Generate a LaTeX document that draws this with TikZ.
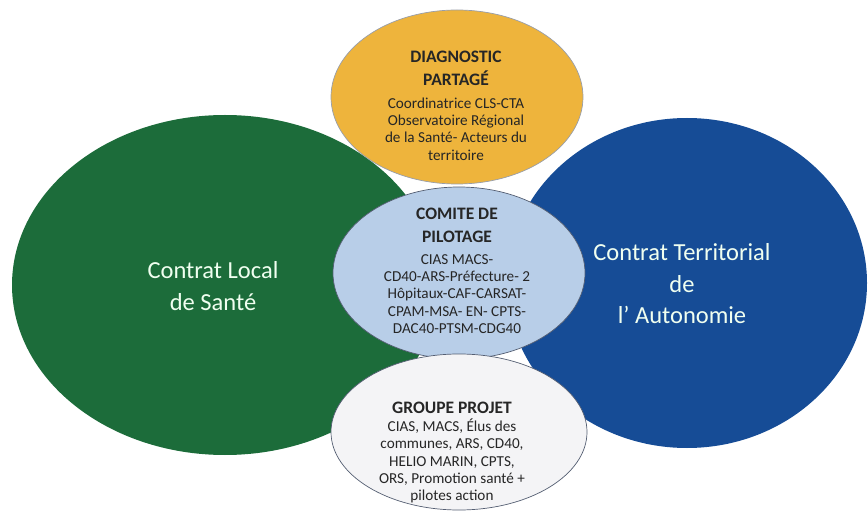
\documentclass[tikz,border=0pt]{standalone}
\usepackage{fontspec}
\setmainfont{Carlito}
\usetikzlibrary{shapes.geometric}

\definecolor{clsgreen}{RGB}{28,108,58}
\definecolor{ctablue}{RGB}{22,76,150}
\definecolor{diagyellow}{RGB}{238,180,60}
\definecolor{copilblue}{RGB}{184,206,232}
\definecolor{projwhite}{RGB}{244,244,246}
\definecolor{rimgray}{RGB}{84,94,114}

\begin{document}
\begin{tikzpicture}[
    x=1pt, y=1pt,
    bubble/.style={ellipse, inner sep=0pt, outer sep=0pt},
    contract/.style={bubble, draw=none},
    instance/.style={bubble, draw=rimgray, line width=0.7pt},
    bigtext/.style={align=center, text=white!94!green, font=\fontsize{24.5}{31.5}\selectfont},
    headtext/.style={align=center, text=black!85, font=\fontsize{17.5}{23}\selectfont\bfseries},
    membertext/.style={align=center, text=black!85, font=\fontsize{15.2}{17.3}\selectfont}
]
\useasboundingbox (0,0) rectangle (868,512);

% Contracts
\node[contract, fill=clsgreen, minimum width=426pt, minimum height=340pt] (cls) at (225,227) {};
\node[contract, fill=ctablue, minimum width=360pt, minimum height=330pt] (cta) at (687,229) {};

% Instances
\node[instance, fill=diagyellow, draw=rimgray!60, minimum width=252pt, minimum height=174pt] (diag) at (457,415) {};
\node[instance, fill=copilblue, minimum width=252pt, minimum height=172pt] (copil) at (459,239) {};
\node[instance, fill=projwhite, minimum width=256pt, minimum height=156pt] (projet) at (459,80) {};

% Labels
\node[bigtext] (clslabel) at (213,226) {Contrat Local\\de Santé};
\node[bigtext] (ctalabel) at (682,228) {Contrat Territorial\\de\\l’ Autonomie};

\node[headtext] (diaghead) at (456,444) {DIAGNOSTIC\\PARTAGÉ};
\node[membertext] (diagbody) at (456,383) {Coordinatrice CLS-CTA\\Observatoire Régional\\de la Santé- Acteurs du\\territoire};

\node[headtext] (copilhead) at (457,287) {COMITE DE\\PILOTAGE};
\node[membertext] (copilbody) at (457,218) {CIAS MACS-\\CD40-ARS-Préfecture- 2\\Hôpitaux-CAF-CARSAT-\\CPAM-MSA- EN- CPTS-\\DAC40-PTSM-CDG40};

\node[headtext] (projethead) at (452,104) {GROUPE PROJET};
\node[membertext] (projetbody) at (452,51) {CIAS, MACS, Élus des\\communes, ARS, CD40,\\HELIO MARIN, CPTS,\\ORS, Promotion santé +\\pilotes action};

\end{tikzpicture}
\end{document}
